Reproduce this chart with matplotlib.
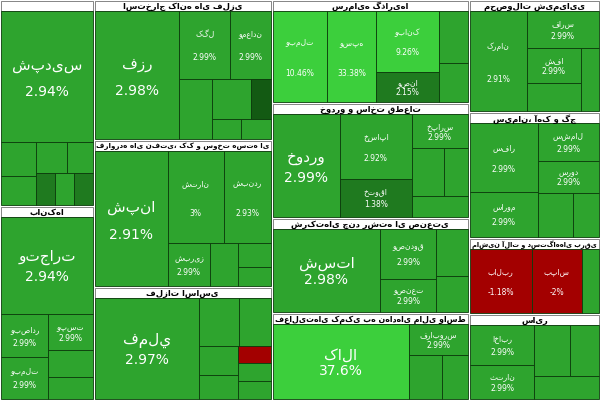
import matplotlib
matplotlib.use("Agg")
import matplotlib.pyplot as plt
from matplotlib.patches import Rectangle

plt.rcParams['font.family'] = ['DejaVu Sans']

# ---- data: column index, sector titles, stock names, % changes, weights (market value) ----
sector_col = [0, 0, 1, 1, 1, 2, 2, 2, 2, 3, 3, 3, 3]
sector_titles = ["", "بانکها", "استخراج کانه های فلزی", "فراورده های نفتی، کک و سوخت هسته ای",
                 "فلزات اساسی", "سرمایه گذاریها", "خودرو و ساخت قطعات", "شرکتهای چند رشته ای صنعتی",
                 "فعالیتهای کمکی به نهادهای مالی واسط", "محصولات شیمیایی", "سیمان، آهک و گچ",
                 "ماشین آلات و دستگاههای برقی", "سایر"]
sector_names = [
    ["شپدیس", "شفن", "شخارک", "شاراک", "شیراز", "شکلر", "شغدیر", "شصفها"],
    ["وتجارت", "وبصادر", "وبملت", "وپست", "وخاور", "وپاسار"],
    ["فزر", "کگل", "ومعادن", "کچاد", "کروی", "فخوز", "کنور", "کاما"],
    ["شپنا", "شتران", "شبندر", "شبریز", "شاوان", "شنفت", "شسپا"],
    ["فملي", "فولاد", "فخاس", "فروس", "فاسمین", "فسرب", "فجر", "ذوب"],
    ["وبملت", "وسپه", "وبانک", "وصنا", "وسپهر", "وغدیر"],
    ["خودرو", "خساپا", "ختوقا", "خپارس", "خمحرکه", "خگستر", "خکاوه"],
    ["شستا", "وصندوق", "وصنعت", "وبوعلی", "وسپهر"],
    ["کالا", "فرابورس", "سپ", "ثبات"],
    ["کرمان", "فارس", "شفا", "شسینا", "شکربن"],
    ["سفار", "ساروم", "سشمال", "سرود", "سخوز", "سیلام"],
    ["بالبر", "بپاس", "برکت"],
    ["اخابر", "ثتران", "رمپنا", "تاپیکو", "حکشتی"],
]
sector_pcts = [
    [2.94, 2.99, 2.95, 2.99, 2.90, 2.10, 2.99, 1.20],
    [2.94, 2.99, 2.99, 2.99, 2.98, 2.93],
    [2.98, 2.99, 2.99, 2.99, 2.95, 0.98, 2.99, 2.99],
    [2.91, 3.00, 2.93, 2.99, 2.98, 2.99, 2.65],
    [2.97, 2.99, 2.93, 2.86, 2.99, -0.8, 2.99, 2.99],
    [10.46, 33.38, 9.26, 2.15, 2.99, 2.99],
    [2.99, 2.92, 1.38, 2.99, 2.99, 2.98, 2.99],
    [2.98, 2.99, 2.99, 2.99, 2.99],
    [37.6, 2.99, 2.99, 2.99],
    [2.91, 2.99, 2.99, 2.99, 2.99],
    [2.99, 2.99, 2.99, 2.99, 2.96, 2.99],
    [-1.18, -2.0, 2.99],
    [2.99, 2.99, 2.99, 2.99, 2.99],
]
sector_weights = [
    [60, 6, 5, 5, 4, 3, 3, 3],
    [45, 10, 10, 8, 6, 5],
    [55, 18, 14, 10, 8, 4, 3, 3],
    [50, 26, 22, 9, 6, 4, 3],
    [55, 10, 8, 6, 5, 3, 3, 3],
    [26, 24, 20, 10, 8, 6],
    [36, 24, 14, 10, 8, 6, 6],
    [48, 15, 10, 8, 6],
    [55, 10, 8, 6],
    [30, 14, 10, 8, 6],
    [24, 16, 12, 10, 8, 6],
    [22, 18, 6],
    [14, 12, 10, 8, 8],
]

def color_for(p):
    if p < 0:
        return "#a30000"
    if p > 5:
        return "#3ccf3c"
    if p >= 2.5:
        return "#2ea42e"
    if p >= 1.0:
        return "#1f7a1f"
    return "#135a13"

def worst(row, w):
    s = sum(row)
    return max(max(w * w * r / (s * s), (s * s) / (w * w * r)) for r in row)

def squarify(vals, x, y, w, h):
    total = sum(vals)
    vals = [v * w * h / total for v in vals]
    rects = []
    i = 0
    while i < len(vals):
        short = min(w, h)
        row = [vals[i]]
        j = i + 1
        while j < len(vals) and worst(row + [vals[j]], short) <= worst(row, short):
            row.append(vals[j]); j += 1
        s = sum(row)
        if w >= h:
            cw = s / h; cy = y
            for r in row:
                rh = r / cw; rects.append((x, cy, cw, rh)); cy += rh
            x += cw; w -= cw
        else:
            rh = s / w; cx = x
            for r in row:
                rw = r / rh; rects.append((cx, y, rw, rh)); cx += rw
            y += rh; h -= rh
        i = j
    return rects

fig = plt.figure(figsize=(6, 4), dpi=100)
ax = fig.add_axes([0, 0, 1, 1])
ax.set_xlim(0, 600); ax.set_ylim(400, 0); ax.axis('off')
fig.patch.set_facecolor('white')
renderer = fig.canvas.get_renderer()

ncol = max(sector_col) + 1
col_tot = [sum(sum(sector_weights[i]) for i in range(len(sector_col)) if sector_col[i] == c) for c in range(ncol)]
grand = sum(col_tot)
x0 = 0
for c in range(ncol):
    cw = 600 * col_tot[c] / grand
    y0 = 0
    for i in range(len(sector_col)):
        if sector_col[i] != c:
            continue
        sh = 400 * sum(sector_weights[i]) / col_tot[c]
        hh = 11
        ax.add_patch(Rectangle((x0 + 1, y0 + 1), cw - 2, hh - 1, facecolor='white', edgecolor='#555', lw=0.5))
        t = ax.text(x0 + cw / 2, y0 + 1 + hh / 2, sector_titles[i], ha='center', va='center', fontsize=6, fontweight='bold', color='black')
        tw = t.get_window_extent(renderer).width
        if tw > cw - 6:
            t.set_fontsize(6 * (cw - 6) / tw)
        rects = squarify(sector_weights[i], x0 + 1, y0 + hh, cw - 2, sh - hh - 1)
        for (rx, ry, rw, rh), nm, p in zip(rects, sector_names[i], sector_pcts[i]):
            ax.add_patch(Rectangle((rx, ry), rw, rh, facecolor=color_for(p), edgecolor='#0b3b0b', lw=0.6))
            area = rw * rh
            if area > 6000:
                ax.text(rx + rw / 2, ry + rh * 0.42, nm, ha='center', va='center', fontsize=11, color='white')
                ax.text(rx + rw / 2, ry + rh * 0.62, f"{p:g}%", ha='center', va='center', fontsize=10, color='white')
            elif rw > 40 and rh > 30:
                ax.text(rx + rw / 2, ry + rh * 0.35, nm, ha='center', va='center', fontsize=5.5, color='white')
                ax.text(rx + rw / 2, ry + rh * 0.68, f"{p:g}%", ha='center', va='center', fontsize=5.5, color='white')
        y0 += sh
    x0 += cw

fig.savefig("out.png", dpi=100)
